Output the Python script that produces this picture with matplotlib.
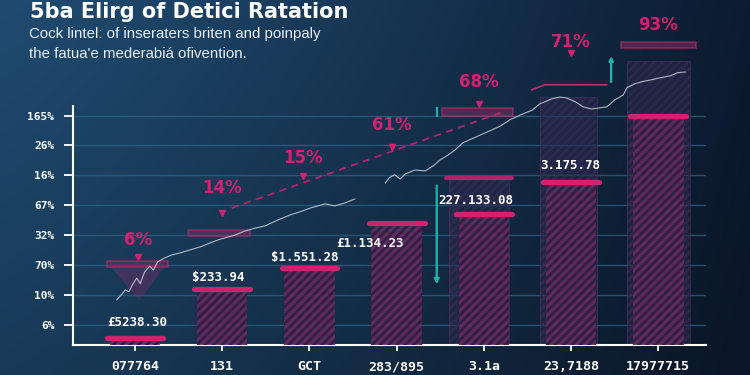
import numpy as np
import matplotlib
matplotlib.use("Agg")
import matplotlib.pyplot as plt
from matplotlib.patches import Rectangle, Polygon

# ---------------- data ----------------
title = "5ba Elirg of Detici Ratation"
subtitle_lines = ["Cock lintel: of inseraters briten and poinpaly",
                  "the fatua'e mederabiá ofivention."]
categories = ["077764", "131", "GCT", "283/895", "3.1a", "23,7188", "17977715"]
ytick_labels = ["6%", "10%", "70%", "32%", "67%", "16%", "26%", "165%"]
ytick_pos = [0.67, 1.67, 2.67, 3.67, 4.67, 5.67, 6.67, 7.67]
bar_values = [0.23, 1.87, 2.58, 4.08, 4.38, 5.45, 7.66]
value_labels = ["£5238.30", "$233.94", "$1.551.28", "£1.134.23", "227.133.08", "3.175.78"]
value_label_x = [0.03, 0.95, 1.95, 2.69, 3.91, 4.99]
value_label_y = [0.74, 2.27, 2.91, 3.38, 4.82, 5.99]
pct_labels = ["6%", "14%", "15%", "61%", "68%", "71%", "93%"]
pct_label_x = [0.03, 1.0, 1.93, 2.95, 3.94, 5.0, 6.0]
pct_label_y = [3.51, 5.25, 6.25, 7.36, 8.80, 10.13, 10.70]
pct_marker_y = [2.94, 4.41, 5.65, 6.62, 8.06, 9.77]
# ghost (shadow) bars: left, right, top
ghost_left = [3.60, 4.64, 5.64]
ghost_right = [4.29, 5.30, 6.36]
ghost_top = [5.59, 8.30, 9.50]
# outline caps: left, right, bottom, top
cap_left = [-0.32, 0.61, 3.52, 5.57]
cap_right = [0.38, 1.32, 4.33, 6.43]
cap_bottom = [2.61, 3.65, 7.66, 9.93]
cap_top = [2.81, 3.85, 7.93, 10.13]
# dashed trend
dash_x = [1.11, 4.19]
dash_y = [4.58, 7.76]
# noisy white line (two segments)
line1_x = [-0.21, -0.15, -0.11, -0.07, -0.03, 0.02, 0.06, 0.11, 0.17, 0.21, 0.26, 0.34, 0.42, 0.52,
           0.63, 0.75, 0.86, 0.95, 1.03, 1.15, 1.26, 1.38, 1.49, 1.64, 1.78, 1.89, 2.01, 2.10,
           2.18, 2.29, 2.41, 2.52]
line1_y = [1.51, 1.70, 1.84, 1.78, 2.01, 2.24, 2.05, 2.44, 2.64, 2.50, 2.78, 2.91, 3.01, 3.08,
           3.18, 3.28, 3.41, 3.51, 3.58, 3.68, 3.81, 3.91, 3.98, 4.18, 4.35, 4.45, 4.58, 4.65,
           4.72, 4.65, 4.75, 4.88]
line2_x = [2.87, 2.92, 2.98, 3.04, 3.10, 3.21, 3.33, 3.42, 3.50, 3.59, 3.67, 3.76, 3.86, 3.96,
           4.07, 4.19, 4.30, 4.42, 4.56, 4.64, 4.70, 4.78, 4.87, 4.95, 5.05, 5.14, 5.24, 5.33,
           5.41, 5.50, 5.60, 5.64, 5.73, 5.81, 5.91, 6.02, 6.14, 6.22, 6.31]
line2_y = [5.42, 5.60, 5.69, 5.55, 5.72, 5.85, 5.82, 5.99, 6.19, 6.35, 6.52, 6.76, 6.89, 7.02,
           7.16, 7.32, 7.53, 7.69, 7.86, 8.06, 8.13, 8.23, 8.29, 8.26, 8.13, 7.96, 7.89, 7.93,
           7.96, 8.19, 8.36, 8.60, 8.73, 8.80, 8.86, 8.93, 9.00, 9.10, 9.13]

MAG = "#d3206f"
CYAN = "#22b3ae"

plt.rcParams["hatch.linewidth"] = 2.0

fig = plt.figure(figsize=(7.5, 3.75), dpi=100)

# background gradient
bg = fig.add_axes([0, 0, 1, 1], zorder=-10)
h, w = 150, 300
X, Y = np.meshgrid(np.linspace(0, 1, w), np.linspace(0, 1, h))
c_tl = np.array([0x1f, 0x4b, 0x70]) / 255
c_tr = np.array([0x0c, 0x1b, 0x30]) / 255
c_bl = np.array([0x18, 0x3a, 0x58]) / 255
c_br = np.array([0x0a, 0x15, 0x25]) / 255
t = np.clip(X ** 1.2, 0, 1)[..., None]
v = Y[..., None]
img = (c_tl * (1 - t) + c_tr * t) * (1 - v) + (c_bl * (1 - t) + c_br * t) * v
bg.imshow(img, aspect="auto", extent=[0, 1, 0, 1], origin="upper")
bg.axis("off")

ax = fig.add_axes([73 / 750, 30 / 375, (706 - 73) / 750, (345 - 106) / 375])
ax.set_facecolor("none")
ax.set_xlim(-0.711, 6.548)
ax.set_ylim(0, 7.99)

for yp in ytick_pos:
    ax.axhline(yp, color="#2f6384", lw=1.0, alpha=0.75, zorder=0)

xs = np.arange(len(categories))

# ghost bars
for l, r, tp in zip(ghost_left, ghost_right, ghost_top):
    ax.add_patch(Rectangle((l, 0), r - l, tp, facecolor="#2a2a4a", edgecolor="#3a2a55",
                           hatch="////", lw=0, alpha=0.55, zorder=1, clip_on=False))
    ax.add_patch(Rectangle((l, 0), r - l, tp, facecolor="none", edgecolor="#4a3060",
                           lw=0.8, alpha=0.6, zorder=1, clip_on=False))
ax.plot([ghost_left[0] - 0.03, ghost_right[0] + 0.03], [ghost_top[0]] * 2, color=MAG,
        lw=3, alpha=0.85, solid_capstyle="round", zorder=2)

# main bars
bars = ax.bar(xs, bar_values, width=0.58, color="#6a2a62", edgecolor="#2a1f3f",
              hatch="////", lw=0, zorder=3, alpha=0.9)
for x, v_ in zip(xs, bar_values):
    ax.plot([x - 0.32, x + 0.32], [v_, v_], color=MAG, lw=3.8, solid_capstyle="round", zorder=4)

# outline caps
for l, r, b, tp in zip(cap_left, cap_right, cap_bottom, cap_top):
    ax.add_patch(Rectangle((l, b), r - l, tp - b, facecolor="#7a2a60", edgecolor="#b0306a",
                           lw=1.2, alpha=0.6, zorder=2, clip_on=False))

# funnel under 6%
ax.add_patch(Polygon([[-0.28, 2.61], [0.34, 2.61], [0.05, 1.5]], closed=True,
                     facecolor=MAG, alpha=0.22, lw=0, zorder=2))

# 71% bracket and cyan markers
ax.plot([4.55, 4.70, 5.41], [8.53, 8.70, 8.70], color="#b0306a", lw=1.3, zorder=2, clip_on=False)
ax.annotate("", xy=(5.46, 9.75), xytext=(5.46, 8.70),
            arrowprops=dict(arrowstyle="-|>", color=CYAN, lw=1.6, mutation_scale=6),
            annotation_clip=False)
ax.plot([3.46, 3.46], [7.66, 7.93], color=CYAN, lw=1.5, clip_on=False)
ax.annotate("", xy=(3.46, 1.94), xytext=(3.46, 5.42),
            arrowprops=dict(arrowstyle="-|>", color=CYAN, lw=1.6, mutation_scale=7))

# trend lines
ax.plot(dash_x, dash_y, color=MAG, lw=1.3, ls=(0, (4, 3)), alpha=0.85, zorder=5)
ax.plot(line1_x, line1_y, color="#dfe8f0", lw=0.8, alpha=0.75, zorder=5)
ax.plot(line2_x, line2_y, color="#dfe8f0", lw=0.8, alpha=0.75, zorder=5, clip_on=False)

# percent labels and markers
for x, yl, s in zip(pct_label_x, pct_label_y, pct_labels):
    ax.text(x, yl, s, color=MAG, fontsize=12, fontweight="bold", ha="center", va="center",
            zorder=6, clip_on=False)
for x, ym in zip(pct_label_x[:6], pct_marker_y):
    ax.plot([x], [ym], marker="v", color=MAG, ms=5, zorder=6, clip_on=False)

# value labels
for x, yl, s in zip(value_label_x, value_label_y, value_labels):
    ax.text(x, yl, s, color="white", fontsize=9, fontweight="bold", family="DejaVu Sans Mono",
            ha="center", va="center", zorder=7)

# axes styling
for s in ["top", "right"]:
    ax.spines[s].set_visible(False)
for s in ["left", "bottom"]:
    ax.spines[s].set_color("white")
    ax.spines[s].set_linewidth(1.5)
ax.set_xticks(xs)
ax.set_xticklabels(categories, family="DejaVu Sans Mono", fontweight="bold", fontsize=9.5,
                   color="white")
ax.set_yticks(ytick_pos)
ax.set_yticklabels(ytick_labels, family="DejaVu Sans Mono", fontweight="bold", fontsize=8,
                   color="white")
ax.tick_params(axis="y", length=6.5, width=1.3, color="white", pad=7)
ax.tick_params(axis="x", length=4, width=1.3, color="white", pad=7)

# title and subtitle
fig.text(30 / 750, 1 - 18 / 375, title, color="white", fontsize=15, fontweight="bold",
         family="DejaVu Sans", ha="left", va="baseline")
fig.text(29 / 750, 1 - 38 / 375, subtitle_lines[0], color="#e8eef5", fontsize=10.8,
         family="Liberation Sans", ha="left", va="baseline")
fig.text(29 / 750, 1 - 58 / 375, subtitle_lines[1], color="#e8eef5", fontsize=10.8,
         family="Liberation Sans", ha="left", va="baseline")

fig.savefig("out.png", dpi=100)
